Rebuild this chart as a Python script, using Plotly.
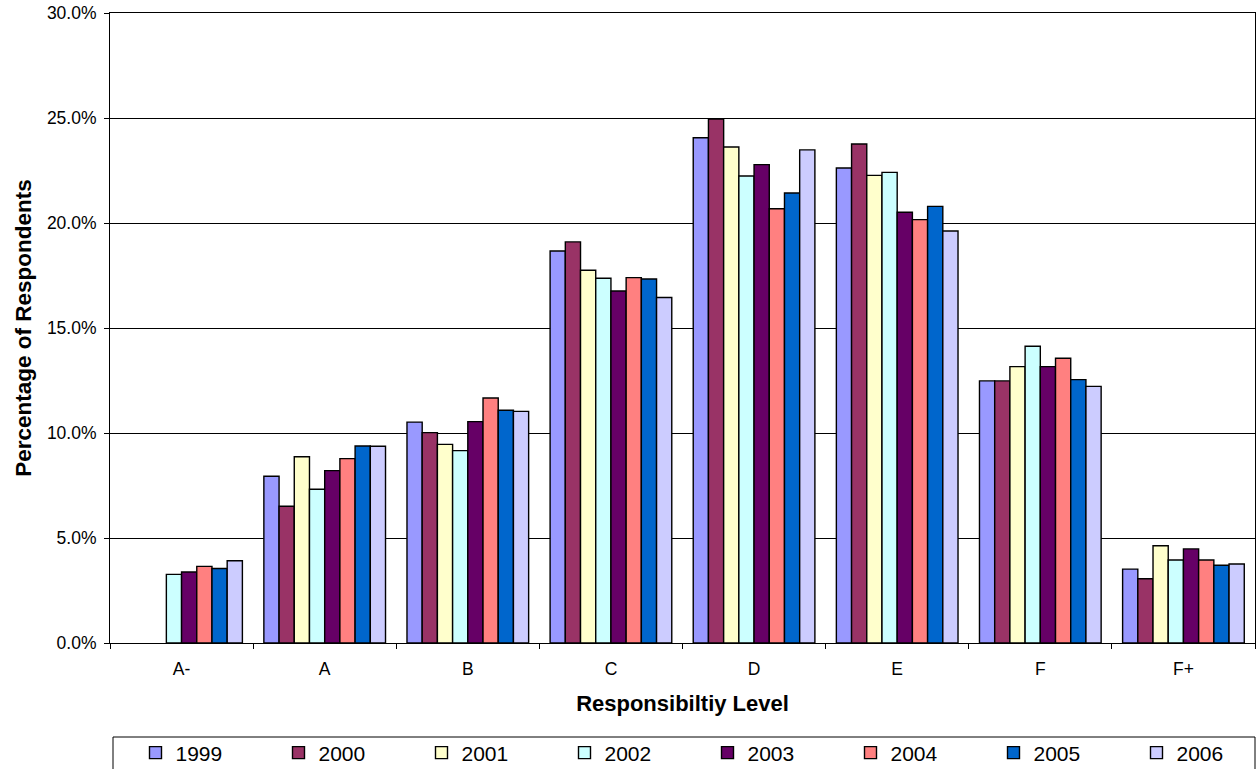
import plotly.graph_objects as go

categories = ["A-", "A", "B", "C", "D", "E", "F", "F+"]
years = ["1999", "2000", "2001", "2002", "2003", "2004", "2005", "2006"]

v1999 = [None, 7.94, 10.52, 18.67, 24.06, 22.62, 12.48, 3.52]
v2000 = [None, 6.51, 10.02, 19.10, 24.95, 23.76, 12.48, 3.06]
v2001 = [None, 8.87, 9.46, 17.75, 23.62, 22.27, 13.16, 4.63]
v2002 = [3.27, 7.32, 9.16, 17.37, 22.24, 22.41, 14.13, 3.95]
v2003 = [3.38, 8.21, 10.54, 16.76, 22.78, 20.51, 13.16, 4.48]
v2004 = [3.65, 8.78, 11.67, 17.40, 20.68, 20.16, 13.56, 3.95]
v2005 = [3.55, 9.38, 11.08, 17.33, 21.43, 20.79, 12.54, 3.70]
v2006 = [3.92, 9.37, 11.03, 16.45, 23.48, 19.62, 12.22, 3.76]

series = [v1999, v2000, v2001, v2002, v2003, v2004, v2005, v2006]
colors = ["#9999FF", "#993366", "#FFFFCC", "#CCFFFF", "#660066", "#FF8080", "#0066CC", "#CCCCFF"]

FONT = "Liberation Sans, Arial, sans-serif"

W, H = 1259, 769
ML, MR, MT, MB = 110, 4, 13, 126
PW = W - ML - MR
PH = H - MT - MB

fig = go.Figure()
legend_layouts = {}
for i, (name, vals, col) in enumerate(zip(years, series, colors)):
    key = "legend" if i == 0 else f"legend{i + 1}"
    fig.add_trace(go.Bar(
        x=categories, y=vals, name=name, legend=key,
        marker=dict(color=col, line=dict(color="black", width=1.4)),
    ))
    legend_layouts[key] = dict(
        orientation="h",
        x=(25.5 + 143 * i) / PW, xanchor="left",
        y=-(110 / PH), yanchor="middle",
        borderwidth=0, bgcolor="rgba(0,0,0,0)",
        font=dict(family=FONT, size=21, color="black"),
        itemwidth=30,
    )

fig.update_layout(
    width=W, height=H,
    margin=dict(l=ML, r=MR, t=MT, b=MB, autoexpand=False),
    paper_bgcolor="white", plot_bgcolor="white",
    barmode="group", bargap=0.15, bargroupgap=0,
    font=dict(family=FONT, size=17.5, color="black"),
    showlegend=True,
    shapes=[dict(
        type="rect", xref="paper", yref="paper",
        x0=3 / PW, x1=1.0, y0=-(94 / PH), y1=-(140 / PH),
        line=dict(color="black", width=1), fillcolor="rgba(0,0,0,0)",
        layer="below",
    )],
    **legend_layouts,
)

fig.update_xaxes(
    showline=True, linecolor="black", linewidth=1, mirror=True,
    ticks="outside", tickson="boundaries", ticklen=5, tickcolor="black",
    tickfont=dict(size=17.5), ticklabelstandoff=10,
    title=dict(text="<b>Responsibiltiy Level</b>", font=dict(size=22), standoff=17),
    showgrid=False,
)
fig.update_yaxes(
    range=[0, 30], dtick=5, tickformat=".1f", ticksuffix="%",
    showline=True, linecolor="black", linewidth=1, mirror=True,
    ticks="outside", ticklen=5, tickcolor="black",
    ticklabelstandoff=4, ticklabeloverflow="allow",
    showgrid=True, gridcolor="black", gridwidth=1,
    tickfont=dict(size=17.5),
    title=dict(text="<b>Percentage of Respondents</b>", font=dict(size=22.5), standoff=9),
    zeroline=False,
)

fig.write_html(
    "out.html",
    config={"displayModeBar": False},
    post_script="document.body.style.margin='0px';document.body.style.overflow='hidden';",
)
